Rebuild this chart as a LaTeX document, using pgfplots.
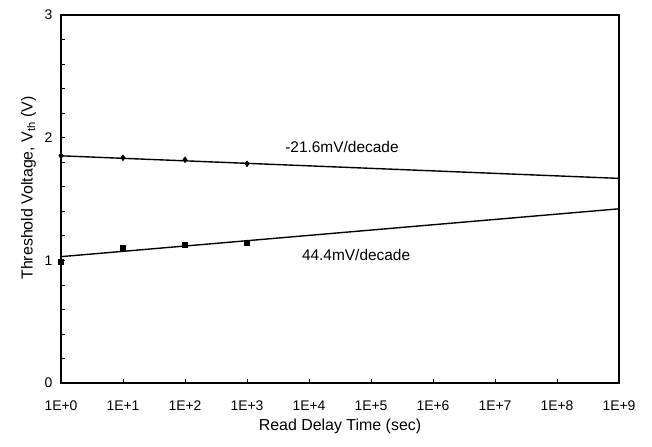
\documentclass[border=0pt]{standalone}
\usepackage{fontspec}
\setmainfont{Liberation Sans}
\usepackage{pgfplots}
\pgfplotsset{compat=1.18}
\begin{document}
\begin{tikzpicture}[x=1bp,y=1bp]
\path[use as bounding box] (-61,-64) rectangle (591,383);
\begin{axis}[
  scale only axis,
  width=558bp, height=368bp,
  at={(0,0)}, anchor=south west,
  xmode=log, log basis x=10,
  xmin=1, xmax=1e9, ymin=0, ymax=3,
  xtick={1,10,100,1000,10000,100000,1000000,10000000,100000000,1000000000},
  xticklabels={1E+0,1E+1,1E+2,1E+3,1E+4,1E+5,1E+6,1E+7,1E+8,1E+9},
  ytick={0,1,2,3},
  minor ytick={0.2,0.4,0.6,0.8,1.2,1.4,1.6,1.8,2.2,2.4,2.6,2.8},
  /pgf/number format/assume math mode=true,
  tick label style={font=\fontsize{14}{16}\selectfont},
  xticklabel style={yshift=-14bp},
  yticklabel style={xshift=-5bp},
  label style={font=\fontsize{16}{18}\selectfont},
  xlabel={Read Delay Time (sec)},
  ylabel={Threshold Voltage, V$_{\mathrm{th}}$ (V)},
  ylabel style={at={(ticklabel cs:0.53)}, yshift=2bp},
  xlabel style={yshift=-2bp},
  axis line style={line width=1.5pt},
  major tick length=4bp, minor tick length=4bp,
  tick style={black, line width=0.7pt},
  xtick pos=bottom, ytick pos=left,
  clip=false,
]
\addplot[black, line width=1.4pt] coordinates {(1,1.852) (1e9,1.668)};
\addplot[black, line width=1.4pt] coordinates {(1,1.03) (1e9,1.42)};
\addplot[only marks, mark=diamond*, mark size=3bp, black] coordinates {
(1,1.852) (10,1.836) (100,1.82) (1000,1.787)};
\addplot[only marks, mark=square*, mark size=2.5bp, black] coordinates {
(1,0.99) (10,1.10) (100,1.125) (1000,1.14)};
\node[font=\fontsize{15.5}{17}\selectfont] at (axis cs:34000,1.92) {-21.6mV/decade};
\node[font=\fontsize{15.5}{17}\selectfont] at (axis cs:57500,1.04) {44.4mV/decade};
\end{axis}
\end{tikzpicture}
\end{document}
